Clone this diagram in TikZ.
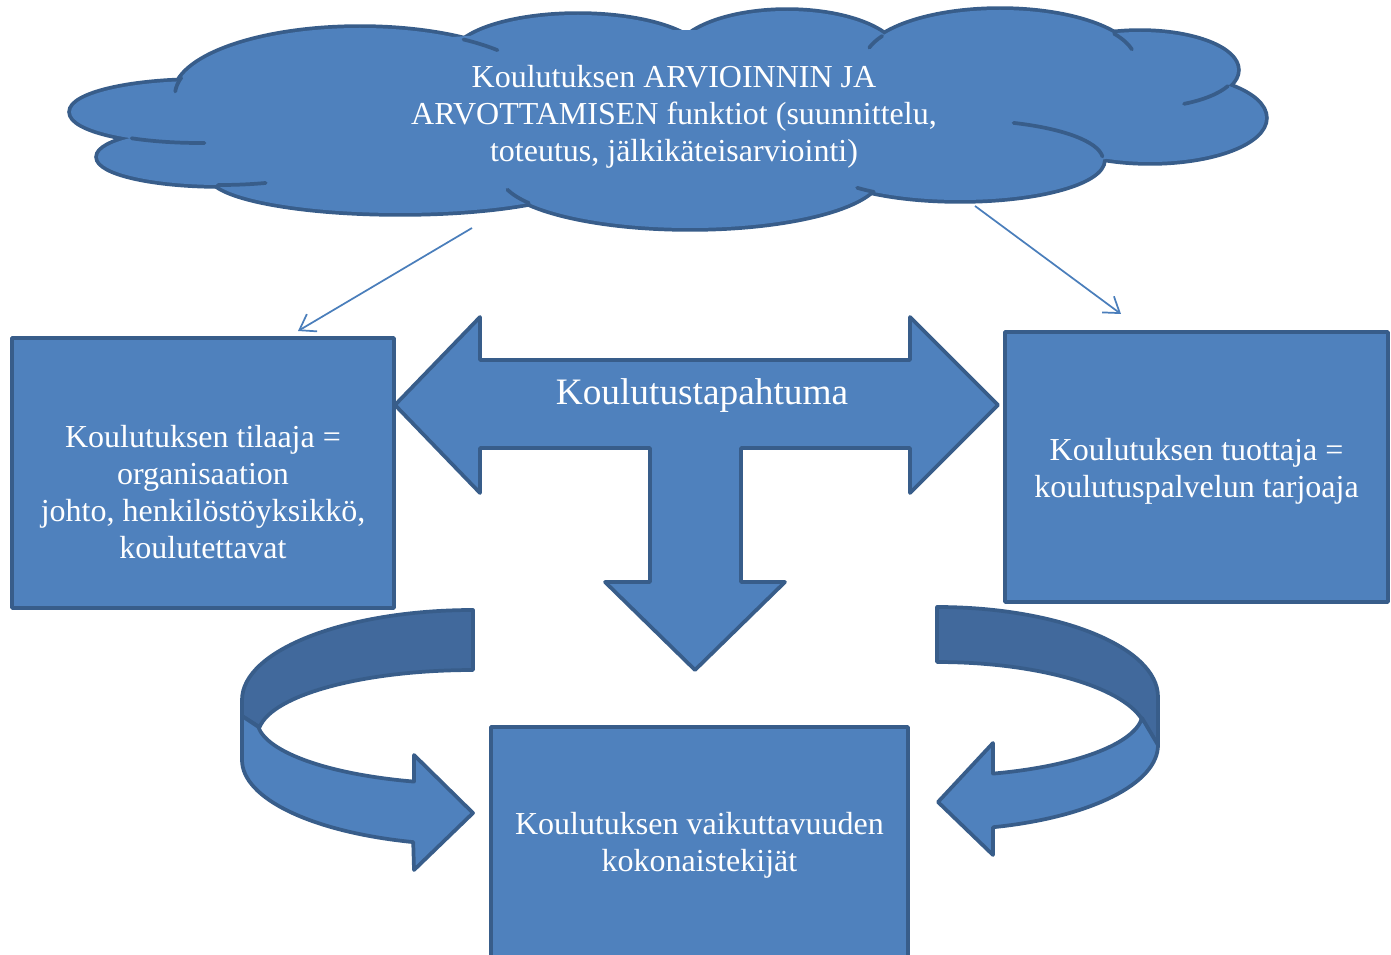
\documentclass[tikz,border=0pt]{standalone}
\usepackage{fontspec}
\setmainfont{Liberation Serif}
\usetikzlibrary{arrows.meta}
\definecolor{fillblue}{HTML}{4F81BD}
\definecolor{edgeblue}{HTML}{385D8A}
\definecolor{backblue}{HTML}{41699C}
\definecolor{linkblue}{HTML}{4A7EBB}
\tikzset{
  shapefill/.style={fill=fillblue, draw=edgeblue, line width=2.8pt, line join=round},
  ribbonback/.style={fill=backblue, draw=edgeblue, line width=2.8pt, line join=round},
  box/.style={shapefill, rectangle, inner sep=0pt},
  txt/.style={text=white, align=center, font=\fontsize{24}{27.75}\selectfont, inner sep=0pt},
  bigtxt/.style={text=white, align=center, font=\fontsize{28}{32}\selectfont, inner sep=0pt},
  link/.style={draw=linkblue, line width=1.3pt, -{Straight Barb[length=11pt,width=15pt,line width=1.3pt]}},
  rim/.style={draw=edgeblue, line width=5.6pt},
  seam/.style={draw=edgeblue, line width=2.8pt, line cap=round}
}
% an inner seam of the cloud: centre, radii, start and end angle
\newcommand{\cloudseam}[6]{\draw[seam] (#1,#2) ++(#5:#3 and #4) arc[start angle=#5, end angle=#6, x radius=#3, y radius=#4];}
\begin{document}
\begin{tikzpicture}[x=0.75pt, y=-0.75pt]
\clip (0,0) rectangle (1391,955);

% ---- cloud: union of lobes ----
\def\lobes{200/112/129/31, 220/157/122/28, 360/95/185/67, 400/175/190/38,
  690/175/190/53, 578/58/125/43, 787/58/112/47, 1000/62/136/52,
  1140/70/97/38, 1150/118/115/44, 960/160/143/40}
\foreach \cx/\cy/\rx/\ry in \lobes
  \draw[rim] (\cx,\cy) ellipse [x radius=\rx, y radius=\ry];
\foreach \cx/\cy/\rx/\ry in \lobes
  \fill[fillblue] (\cx,\cy) ellipse [x radius=\rx, y radius=\ry];
\fill[fillblue] (660,115) ellipse [x radius=520, y radius=85];
% seams where one lobe runs into the next
\cloudseam{200}{112}{129}{31}{122}{88}
\cloudseam{220}{157}{122}{28}{91}{68}
\cloudseam{360}{95}{185}{67}{-56}{-42}
\cloudseam{360}{95}{185}{67}{195}{183}
\cloudseam{690}{175}{190}{53}{148}{164}
\cloudseam{1000}{62}{136}{52}{210}{196}
\cloudseam{1000}{62}{136}{52}{-33}{-14}
\cloudseam{1140}{70}{97}{38}{25}{63}
\cloudseam{960}{160}{143}{40}{-68}{-5}
\cloudseam{960}{160}{143}{40}{127}{136}
\node[txt] (cloudtext) at (674,117) {Koulutuksen ARVIOINNIN JA\\ARVOTTAMISEN funktiot (suunnittelu,\\toteutus, jälkikäteisarviointi)};

% ---- thin links from the cloud ----
\coordinate (cloudSW) at (472,228);
\coordinate (tilaajaIn) at (298,331);
\coordinate (cloudSE) at (975,206);
\coordinate (tuottajaIn) at (1121,314);
\draw[link] (cloudSW) -- (tilaajaIn);
\draw[link] (cloudSE) -- (tuottajaIn);

% ---- boxes ----
\node[box, minimum width=286.5pt, minimum height=202.5pt] (tilaaja) at (203,473) {};
\node[box, minimum width=287.25pt, minimum height=202.5pt] (tuottaja) at (1196.5,467) {};
\node[box, minimum width=312.75pt, minimum height=174.75pt] (vaikutus) at (699.5,843.5) {};

% ---- left-right-down block arrow ----
\draw[shapefill] (395,405) -- (480,317) -- (480,360) -- (910,360) -- (910,317)
  -- (998,405) -- (910,493) -- (910,448) -- (741,448) -- (741,582) -- (785,582)
  -- (695,670) -- (605,582) -- (650,582) -- (650,448) -- (480,448) -- (480,493) -- cycle;
\node[bigtxt] (tapahtuma) at (702,396) {Koulutustapahtuma};

% ---- curved ribbon arrow, left ----
\draw[ribbonback] (473,610) arc[start angle=-90, end angle=-180, x radius=231, y radius=90]
  -- (242,716) -- (259.6,727.1) arc[start angle=-173, end angle=-90, x radius=215, y radius=65] -- cycle;
\draw[shapefill] (242,716) -- (242,760) arc[start angle=180, end angle=105, x radius=231, y radius=85]
  -- (414,870) -- (473,813) -- (414,755) -- (414,781.6)
  arc[start angle=105.85, end angle=174, x radius=216, y radius=64] -- cycle;

% ---- curved ribbon arrow, right ----
\draw[ribbonback] (937,607) arc[start angle=-90, end angle=0, x radius=221, y radius=90]
  -- (1158,745) -- (1141.9,719.1) arc[start angle=-12.6, end angle=-90, x radius=210, y radius=73] -- cycle;
\draw[shapefill] (1158,745) arc[start angle=0, end angle=75.3, x radius=221, y radius=85]
  -- (993,855) -- (938,802) -- (993,743) -- (993,773.6)
  arc[start angle=74.2, end angle=5.4, x radius=206, y radius=64] -- cycle;

% ---- box texts ----
\node[txt] (tilaajatext) at (203,492) {Koulutuksen tilaaja =\\organisaation\\johto, henkilöstöyksikkö,\\koulutettavat};
\node[txt] (tuottajatext) at (1196.5,471.5) {Koulutuksen tuottaja =\\koulutuspalvelun tarjoaja};
\node[txt] (vaikutustext) at (699.5,845) {Koulutuksen vaikuttavuuden\\kokonaistekijät};
\end{tikzpicture}
\end{document}
